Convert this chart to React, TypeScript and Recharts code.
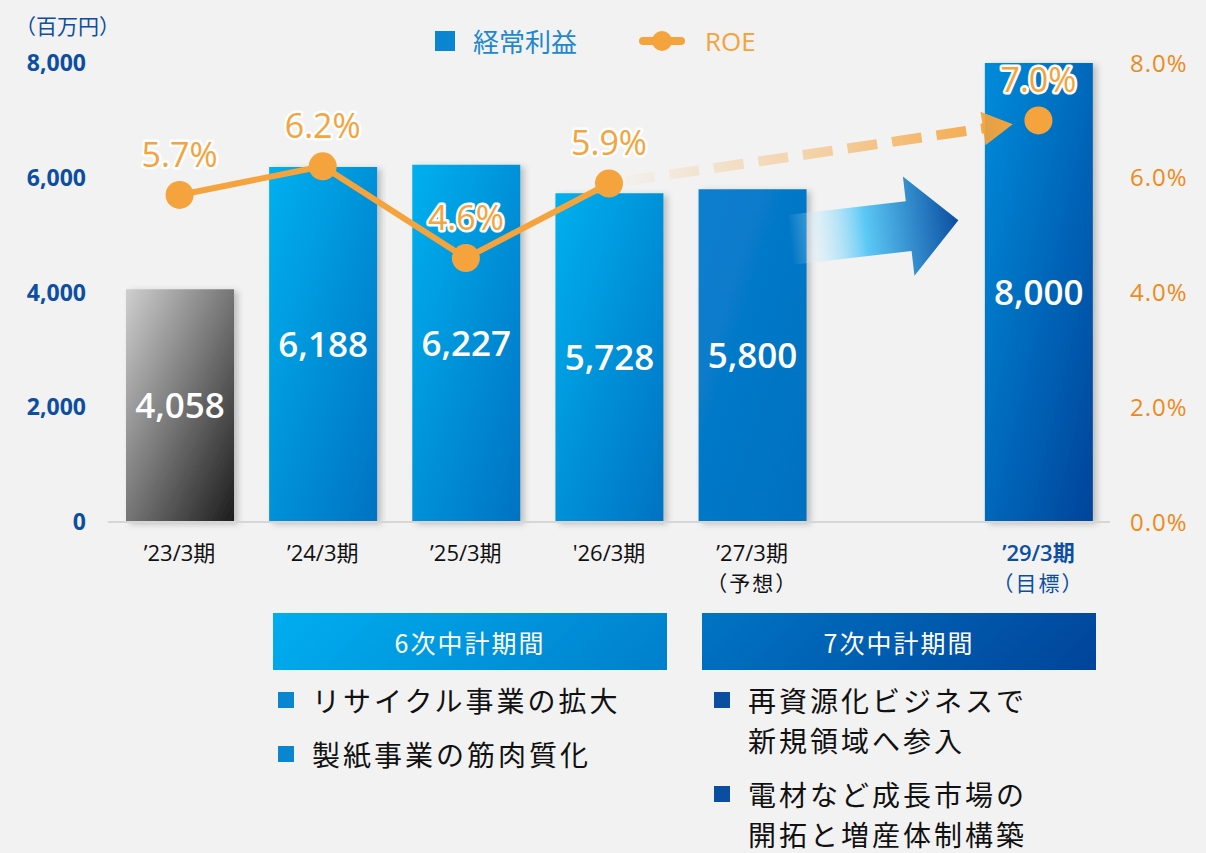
import React from 'react';
import { ComposedChart, Bar, Line, XAxis, YAxis, Cell, LabelList, ReferenceLine } from 'recharts';

const categories = ['’23/3期', '’24/3期', '’25/3期', "'26/3期", '’27/3期', ' ', '’29/3期'];
const notes = ['', '', '', '', '（予想）', '', '（目標）'];
const profit = [4058, 6188, 6227, 5728, 5800, null, 8000];
const roe = [5.7, 6.2, 4.6, 5.9, null, null, 7.0];
const leftTicks = [0, 2000, 4000, 6000, 8000];
const rightTicks = [0, 2, 4, 6, 8];
const barFills = ['url(#gGray)', 'url(#gLight)', 'url(#gLight)', 'url(#gLight)', 'url(#gMid)', 'none', 'url(#gDark)'];
const plan6 = ['リサイクル事業の拡大', '製紙事業の筋肉質化'];
const plan7 = ['再資源化ビジネスで\n新規領域へ参入', '電材など成長市場の\n開拓と増産体制構築'];

const data = categories.map((name, i) => ({ name, profit: profit[i], roe: roe[i] }));

const FONT = "'Open Sans', 'Noto Sans CJK JP', sans-serif";
const JP = "'Noto Sans CJK JP', sans-serif";
const ORANGE = '#f5a33c';
const NAVY = '#0d4ea0';

const XTick = (props: any) => {
  const { x, y, payload, index } = props;
  const blue = index === 6;
  return (
    <g>
      <text x={x} y={y + 31} textAnchor="middle" fontSize={22} fontFamily={FONT}
        fill={blue ? NAVY : '#111'} fontWeight={blue ? 600 : 400}>{payload.value}</text>
      {notes[index] ? (
        <text x={x} y={y + 61} textAnchor="middle" fontSize={21} fontFamily={JP}
          fill={blue ? NAVY : '#111'} letterSpacing={2}>{notes[index]}</text>
      ) : null}
    </g>
  );
};

const RoeLabel = (props: any) => {
  const { x, y, value } = props;
  if (value == null) return null;
  return (
    <text x={x} y={y - 28} textAnchor="middle" fontSize={34} fontWeight={500} fontFamily={FONT}
      fill={ORANGE} stroke="#fff" strokeWidth={5} strokeLinejoin="round" paintOrder="stroke">
      {Number(value).toFixed(1)}%
    </text>
  );
};

const DashedArrow = (p: any) => {
  const { x1, y1, x2, y2 } = p;
  const dx = x2 - x1, dy = y2 - y1, len = Math.hypot(dx, dy);
  const ux = dx / len, uy = dy / len, nx = -uy, ny = ux;
  const tx = x2 - ux * 26, ty = y2 - uy * 26;
  const bx = tx - ux * 30, by = ty - uy * 30;
  const sx = x1 + ux * 16, sy = y1 + uy * 16;
  const hw = 17;
  return (
    <g>
      <defs>
        <linearGradient id="dashGrad" gradientUnits="userSpaceOnUse" x1={x1} y1={y1} x2={tx} y2={ty}>
          <stop offset="0" stopColor={ORANGE} stopOpacity={0} />
          <stop offset="0.5" stopColor={ORANGE} stopOpacity={0.4} />
          <stop offset="1" stopColor={ORANGE} stopOpacity={1} />
        </linearGradient>
      </defs>
      <line x1={sx} y1={sy} x2={bx + ux * 2} y2={by + uy * 2} stroke="url(#dashGrad)" strokeWidth={10} strokeDasharray="30 15" />
      <polygon points={`${tx},${ty} ${bx + nx * hw},${by + ny * hw} ${bx - nx * hw},${by - ny * hw}`} fill="url(#dashGrad)" />
    </g>
  );
};

const BlueArrow = (p: any) => {
  const { x1, y1, x2, y2 } = p;
  const ax = x1 + (x2 - x1) * (38 / 143), ay = y1 + (y2 - y1) * (38 / 143);
  const tx = x1 + (x2 - x1) * (206 / 143), ty = y1 + (y2 - y1) * (206 / 143);
  const dx = tx - ax, dy = ty - ay, len = Math.hypot(dx, dy);
  const ux = dx / len, uy = dy / len, nx = -uy, ny = ux;
  const bx = tx - ux * 50, by = ty - uy * 50;
  const bw = 25, hw = 50;
  const pts = [
    [ax + nx * bw, ay + ny * bw], [bx + nx * bw, by + ny * bw], [bx + nx * hw, by + ny * hw],
    [tx, ty], [bx - nx * hw, by - ny * hw], [bx - nx * bw, by - ny * bw], [ax - nx * bw, ay - ny * bw],
  ].map((q) => q.join(',')).join(' ');
  return (
    <g>
      <defs>
        <linearGradient id="blueArrow" gradientUnits="userSpaceOnUse" x1={ax} y1={ay} x2={tx} y2={ty}>
          <stop offset="0" stopColor="#ffffff" stopOpacity={0} />
          <stop offset="0.45" stopColor="#5bc8f5" />
          <stop offset="1" stopColor="#0a4ea2" />
        </linearGradient>
      </defs>
      <polygon points={pts} fill="url(#blueArrow)" />
    </g>
  );
};

const Bullets = ({ items, color, left }: { items: string[]; color: string; left: number }) => (
  <div style={{ position: 'absolute', left, top: 680, fontFamily: JP }}>
    {items.map((t, i) => (
      <div key={i} style={{ display: 'flex', alignItems: 'flex-start', marginBottom: 14 }}>
        <div style={{ width: 16, height: 16, background: color, marginTop: 12, marginRight: 18 }} />
        <div style={{ fontSize: 28, letterSpacing: 3, lineHeight: '40px', color: '#111', whiteSpace: 'pre' }}>{t}</div>
      </div>
    ))}
  </div>
);

export default function App() {
  return (
    <div style={{ position: 'absolute', left: 0, top: 0, width: 1206, height: 853, background: '#f2f2f2', overflow: 'hidden' }}>
      <div style={{ position: 'absolute', left: 15, top: 10, fontSize: 21, color: NAVY, fontFamily: JP }}>（百万円）</div>
      <div style={{ position: 'absolute', left: 435, top: 22, display: 'flex', alignItems: 'center', fontFamily: JP, fontSize: 26 }}>
        <div style={{ width: 20, height: 20, background: '#0a86d0', marginRight: 18 }} />
        <span style={{ color: '#1e88d0' }}>経常利益</span>
        <svg width={46} height={24} style={{ marginLeft: 62, marginRight: 20 }}>
          <line x1={4} y1={12} x2={42} y2={12} stroke={ORANGE} strokeWidth={8} strokeLinecap="round" />
          <circle cx={23} cy={12} r={10} fill={ORANGE} />
        </svg>
        <span style={{ color: ORANGE, fontFamily: FONT }}>ROE</span>
      </div>

      <div style={{ position: 'absolute', left: 0, top: 0 }}>
        <ComposedChart width={1206} height={600} data={data} margin={{ top: 63, right: 0, bottom: 0, left: 0 }}>
          <defs>
            <linearGradient id="gGray" x1="0" y1="0" x2="1" y2="1">
              <stop offset="0" stopColor="#cfcfcf" />
              <stop offset="1" stopColor="#1c1c1c" />
            </linearGradient>
            <linearGradient id="gLight" x1="0" y1="0" x2="1" y2="1">
              <stop offset="0" stopColor="#00b0ef" />
              <stop offset="1" stopColor="#0072c2" />
            </linearGradient>
            <linearGradient id="gMid" x1="0" y1="0" x2="1" y2="1">
              <stop offset="0" stopColor="#0a7fcf" />
              <stop offset="1" stopColor="#0070bf" />
            </linearGradient>
            <linearGradient id="gDark" x1="0" y1="0" x2="1" y2="1">
              <stop offset="0" stopColor="#008cdb" />
              <stop offset="1" stopColor="#00449a" />
            </linearGradient>
            <filter id="shadow" x="-10%" y="-5%" width="130%" height="115%">
              <feDropShadow dx={4} dy={2} stdDeviation={3} floodColor="#000" floodOpacity={0.22} />
            </filter>
          </defs>
          <XAxis dataKey="name" height={78} interval={0} tickLine={false} axisLine={{ stroke: '#d6d6d6', strokeWidth: 2 }} tick={<XTick />} />
          <YAxis yAxisId="left" width={108} domain={[0, 8000]} ticks={leftTicks} tickLine={false} axisLine={false} tickMargin={16}
            tickFormatter={(v: number) => v.toLocaleString('en-US')}
            tick={{ fill: NAVY, fontSize: 23, fontWeight: 700, fontFamily: FONT }} />
          <YAxis yAxisId="right" orientation="right" width={96} domain={[0, 8]} ticks={rightTicks} tickLine={false} axisLine={false} tickMargin={14}
            tickFormatter={(v: number) => v.toFixed(1) + '%'}
            tick={{ fill: '#ee8a1c', fontSize: 24, fontFamily: FONT, letterSpacing: 1 }} />
          <Bar yAxisId="left" dataKey="profit" barSize={108} isAnimationActive={false} filter="url(#shadow)">
            {data.map((d, i) => <Cell key={d.name} fill={barFills[i]} />)}
            <LabelList dataKey="profit" position="center" fill="#fff" fontSize={35} fontWeight={600} fontFamily={FONT}
              formatter={(v: any) => (v == null ? '' : Number(v).toLocaleString('en-US'))} />
          </Bar>
          <ReferenceLine yAxisId="left" segment={[{ x: '’27/3期', y: 4840 }, { x: ' ', y: 5130 }]} shape={BlueArrow} />
          <ReferenceLine yAxisId="right" segment={[{ x: "'26/3期", y: 5.9 }, { x: '’29/3期', y: 7.0 }]} shape={DashedArrow} />
          <Line yAxisId="right" dataKey="roe" stroke={ORANGE} strokeWidth={6} isAnimationActive={false}
            dot={{ r: 14, fill: ORANGE, stroke: 'none' }} connectNulls={false}>
            <LabelList dataKey="roe" content={<RoeLabel />} />
          </Line>
        </ComposedChart>
      </div>

      <div style={{ position: 'absolute', left: 273, top: 613, width: 394, height: 57, background: 'linear-gradient(135deg, #00aeef, #007fcc)', color: '#fff', fontFamily: JP, fontSize: 25, letterSpacing: 2, display: 'flex', alignItems: 'center', justifyContent: 'center' }}>6次中計期間</div>
      <div style={{ position: 'absolute', left: 702, top: 613, width: 394, height: 57, background: 'linear-gradient(135deg, #0074c4, #00449a)', color: '#fff', fontFamily: JP, fontSize: 25, letterSpacing: 2, display: 'flex', alignItems: 'center', justifyContent: 'center' }}>7次中計期間</div>
      <Bullets items={plan6} color="#0a86d0" left={278} />
      <Bullets items={plan7} color="#0a4ea2" left={714} />
    </div>
  );
}
